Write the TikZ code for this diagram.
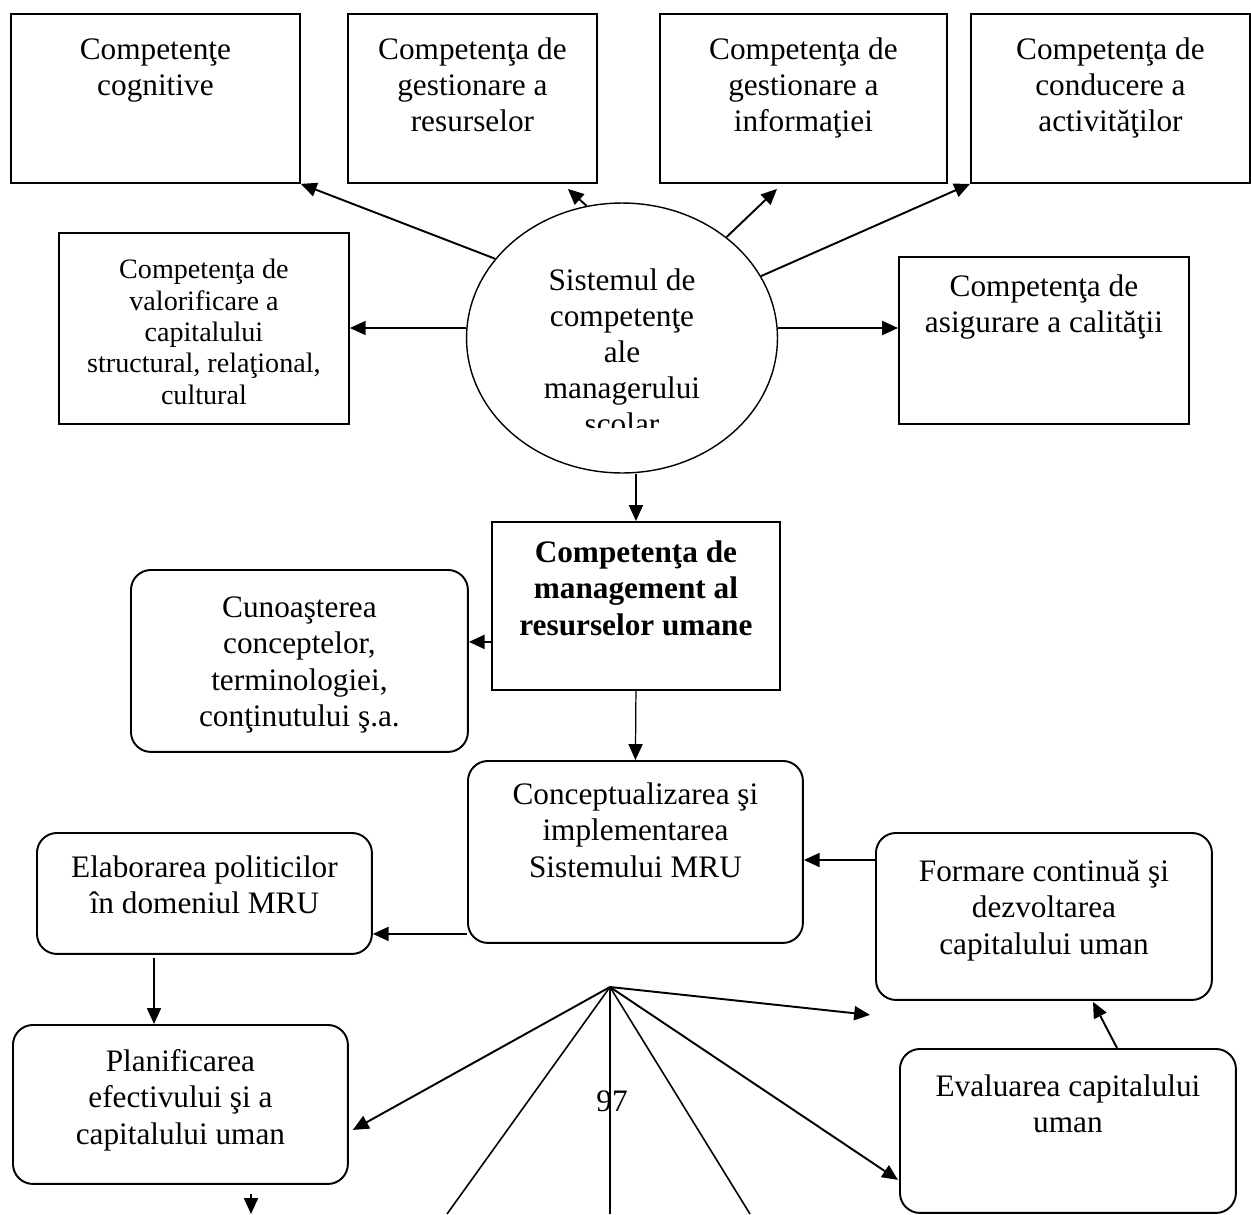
\documentclass[tikz,border=0pt]{standalone}
\usepackage{fontspec}
\setmainfont{Liberation Serif}
\usetikzlibrary{positioning}
\usetikzlibrary{calc}
\usetikzlibrary{arrows.meta}
\usetikzlibrary{shapes.geometric}
\newcommand{\bodyfont}{\fontsize{17.8}{20.5}\selectfont}
\newcommand{\smallbody}{\fontsize{16}{17.8}\selectfont}

\begin{document}
\begin{tikzpicture}
    [x=0.02cm, y=-0.02cm,
    box/.style={draw, line width=1.1pt, align=flush center, font=\bodyfont, inner sep=0pt, anchor=north west},
    rbox/.style={box, rounded corners=0.4cm},
    arr/.style={-{Triangle[length=9pt, width=8pt]}, line width=1.1pt},
    thinarr/.style={arr, line width=0.7pt},
    ray/.style={line width=0.9pt}]
    \useasboundingbox (0,0) rectangle (1251,1214);
    % upper row
    \node[box, text width=5.78cm, text height=0.92cm, text depth=2.46cm] (cogn) at (10,13) {Competenţe\\cognitive};
    \node[box, text width=4.98cm, text height=0.92cm, text depth=2.46cm] (res) at (347,13) {Competenţa de\\gestionare a\\resurselor};
    \node[box, text width=5.74cm, text height=0.92cm, text depth=2.46cm] (inf) at (659,13) {Competenţa de\\gestionare a\\informaţiei};
    \node[box, text width=5.58cm, text height=0.92cm, text depth=2.46cm] (act) at (970,13) {Competenţa de\\conducere a\\activităţilor};
    \node[box, font=\smallbody, text width=5.80cm, text height=0.92cm, text depth=2.90cm] (val) at (58,232) {Competenţa de\\valorificare a\\capitalului\\structural, relaţional,\\cultural};
    \node[box, text width=5.80cm, text height=0.80cm, text depth=2.54cm] (cal) at (898,256) {Competenţa de\\asigurare a calităţii};
    % central ellipse
    \node[draw, ellipse, line width=0.8pt, minimum width=6.22cm, minimum height=5.40cm, inner sep=0pt] (sys) at (622,338) {};
    \begin{scope}
        \clip (440,180) rectangle (800,427);
        \node[font=\bodyfont, align=flush center, text width=5cm, anchor=base] (systxt) at (622,290) {Sistemul de\\competenţe\\ale\\managerului\\scolar};
    \end{scope}
    % middle part
    \node[box, font=\bodyfont\bfseries, text width=5.76cm, text height=0.82cm, text depth=2.54cm] (mgmt) at (491,521) {Competenţa de\\management al\\resurselor umane};
    \node[rbox, text width=6.74cm, text height=0.96cm, text depth=2.68cm] (cun) at (130,569) {Cunoaşterea\\conceptelor,\\terminologiei,\\conţinutului ş.a.};
    \node[rbox, text width=6.70cm, text height=0.88cm, text depth=2.76cm] (conc) at (467,760) {Conceptualizarea şi\\implementarea\\Sistemului MRU};
    \node[rbox, text width=6.70cm, text height=0.90cm, text depth=1.52cm] (elab) at (36,832) {Elaborarea politicilor\\în domeniul MRU};
    \node[rbox, text width=6.72cm, text height=0.98cm, text depth=2.36cm] (form) at (875,832) {Formare continuă şi\\dezvoltarea\\capitalului uman};
    \node[rbox, text width=6.70cm, text height=0.94cm, text depth=2.24cm] (plan) at (12,1024) {Planificarea\\efectivului şi a\\capitalului uman};
    \node[rbox, text width=6.72cm, text height=0.96cm, text depth=2.32cm] (eval) at (899,1048) {Evaluarea capitalului\\uman};
    \node[font=\bodyfont, anchor=base] (pg) at (612,1111) {97};
    % helper points
    \coordinate (fan) at (610,987);
    \coordinate (r1) at (447,1214);
    \coordinate (r2) at (610,1214);
    \coordinate (r3) at (750,1214);
    \coordinate (pdown) at (251,1214);
    \coordinate (s1) at ($(sys.west)+(0,-10)$);
    \coordinate (s2) at ($(sys.east)+(0,-10)$);
    \coordinate (m1) at ($(mgmt.south west)+(0,-49)$);
    \coordinate (c1) at ($(conc.south west)+(0,-10)$);
    \coordinate (f1) at ($(form.north west)+(0,28)$);
    \coordinate (e1) at ($(elab.south west)+(118,3)$);
    % arrows from the ellipse
    \draw[arr] (sys.148) -- (cogn.south east);
    \draw[arr] (sys.105) -- ($(res.south east)+(-30,5)$);
    \draw[arr] (sys.44) -- ($(inf.south west)+(118,5)$);
    \draw[arr] (sys.24) -- (act.south west);
    \draw[arr] (s1) -- (s1 -| val.east);
    \draw[arr] (s2) -- (s2 -| cal.west);
    \draw[thinarr] (sys.south -| mgmt.north) -- (mgmt.north);
    % lower arrows
    \draw[arr] (m1) -- (m1 -| cun.east);
    \draw[thinarr] (mgmt.south) -- (conc.north);
    \draw[arr] (c1) -- (c1 -| elab.east);
    \draw[arr] (f1) -- (f1 -| conc.east);
    \draw[thinarr] (e1) -- (e1 |- plan.north);
    \draw[arr] ($(eval.north west)+(218,0)$) -- ($(form.south west)+(218,1)$);
    \draw[thinarr] ($(plan.south west)+(239,9)$) -- (pdown);
    % fan
    \draw[arr] (fan) -- ($(form.south west)+(-5,14)$);
    \draw[arr] (fan) -- ($(plan.south east)+(4,-55)$);
    \draw[arr] (fan) -- ($(eval.south west)+(-1,-34)$);
    \draw[ray] (fan) -- (r1);
    \draw[ray] (fan) -- (r2);
    \draw[ray] (fan) -- (r3);
\end{tikzpicture}
\end{document}
